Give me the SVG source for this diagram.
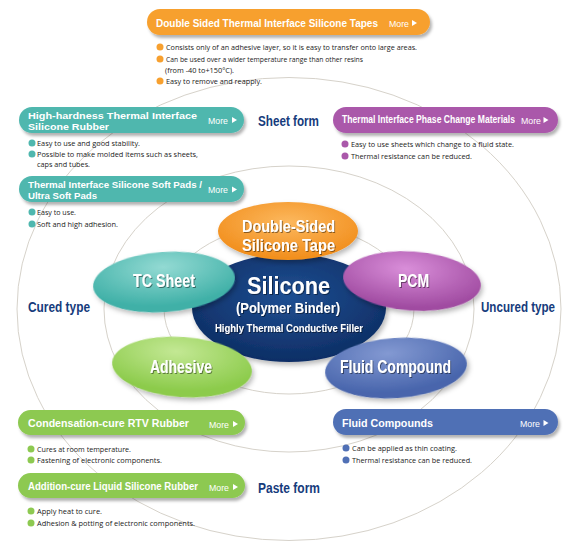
<svg xmlns="http://www.w3.org/2000/svg" width="577" height="553" viewBox="0 0 577 553">
<defs>
<style>
.pt{font-family:"Liberation Sans",Arial,sans-serif;font-weight:bold;font-size:11.5px;fill:#fff}
.pt2{font-family:"Liberation Sans",Arial,sans-serif;font-weight:bold;font-size:9.8px;fill:#fff}
.more{font-family:"Liberation Sans",Arial,sans-serif;font-size:9.5px;fill:#fff}
.bt{font-family:"Open Sans","Liberation Sans",sans-serif;font-size:7.6px;fill:#1a1a1a}
.sec{font-family:"Liberation Sans",Arial,sans-serif;font-weight:bold;font-size:14px;fill:#163b7c}
.bl{font-family:"Liberation Sans",Arial,sans-serif;font-weight:bold;fill:#fff;text-anchor:middle}
.ring{fill:none;stroke:#d6d2ca;stroke-width:1}
</style>
<filter id="ps" x="-10%" y="-30%" width="125%" height="180%"><feDropShadow dx="2" dy="3" stdDeviation="1.8" flood-color="#000" flood-opacity="0.3"/></filter>
<filter id="bs" x="-20%" y="-30%" width="140%" height="170%"><feDropShadow dx="2" dy="3" stdDeviation="2.5" flood-color="#000" flood-opacity="0.28"/></filter>
<filter id="ts" x="-10%" y="-30%" width="120%" height="170%"><feDropShadow dx="1" dy="1" stdDeviation="0.7" flood-color="#000" flood-opacity="0.45"/></filter>
<radialGradient id="gO" cx="50%" cy="35%" r="60%"><stop offset="0" stop-color="#fcb85e"/><stop offset="1" stop-color="#f2901f"/></radialGradient>
<radialGradient id="gT" cx="50%" cy="25%" r="65%"><stop offset="0" stop-color="#93dad3"/><stop offset="1" stop-color="#3fb0a7"/></radialGradient>
<radialGradient id="gP" cx="45%" cy="30%" r="65%"><stop offset="0" stop-color="#d98ed9"/><stop offset="1" stop-color="#a04ba1"/></radialGradient>
<radialGradient id="gG" cx="45%" cy="25%" r="65%"><stop offset="0" stop-color="#c3e894"/><stop offset="1" stop-color="#8ccb4b"/></radialGradient>
<radialGradient id="gB" cx="45%" cy="25%" r="65%"><stop offset="0" stop-color="#8399d2"/><stop offset="1" stop-color="#4865ac"/></radialGradient>
<radialGradient id="gN" cx="50%" cy="40%" r="60%"><stop offset="0" stop-color="#1f4f92"/><stop offset="1" stop-color="#0e2e65"/></radialGradient>
<polygon id="ar" points="0,-3 5,0 0,3" fill="#fff"/>
</defs>
<rect width="577" height="553" fill="#fff"/>

<g id="connectors">
<ellipse class="ring" cx="289" cy="309" rx="272" ry="231.5"/>
<ellipse class="ring" cx="289" cy="309" rx="185" ry="143"/>
<ellipse class="ring" cx="289" cy="309" rx="125" ry="85"/>
</g>

<g id="labels">
<text class="sec" x="258" y="126" textLength="61" lengthAdjust="spacingAndGlyphs">Sheet form</text>
<text class="sec" x="258" y="493" textLength="62" lengthAdjust="spacingAndGlyphs">Paste form</text>
<text class="sec" x="28" y="312" textLength="62" lengthAdjust="spacingAndGlyphs">Cured type</text>
<text class="sec" x="481" y="312" textLength="74" lengthAdjust="spacingAndGlyphs">Uncured type</text>
</g>

<g id="tape-top">
<rect x="147" y="9" width="283" height="26" rx="13" fill="#f7a02f" filter="url(#ps)"/>
<text class="pt" transform="translate(156 27) scale(0.867 1)" textLength="256" lengthAdjust="spacingAndGlyphs">Double Sided Thermal Interface Silicone Tapes</text>
<text class="more" x="389" y="26.5" textLength="20" lengthAdjust="spacingAndGlyphs">More</text><use href="#ar" x="412" y="23"/>
<circle cx="160" cy="47" r="3.5" fill="#f7a02f"/>
<text class="bt" x="166" y="49.6" textLength="251" lengthAdjust="spacingAndGlyphs">Consists only of an adhesive layer, so it is easy to transfer onto large areas.</text>
<circle cx="160" cy="59" r="3.5" fill="#f7a02f"/>
<text class="bt" x="166" y="61.6" textLength="197" lengthAdjust="spacingAndGlyphs">Can be used over a wider temperature range than other resins</text>
<text class="bt" x="165" y="72.6" textLength="69" lengthAdjust="spacingAndGlyphs">(from -40 to+150°C).</text>
<circle cx="160" cy="81" r="3.5" fill="#f7a02f"/>
<text class="bt" x="166" y="83.6" textLength="96" lengthAdjust="spacingAndGlyphs">Easy to remove and reapply.</text>
</g>

<g id="hh-rubber">
<rect x="19" y="107" width="225" height="26" rx="13" fill="#4fb7ae" filter="url(#ps)"/>
<text class="pt2" x="28" y="118.5" textLength="169" lengthAdjust="spacingAndGlyphs">High-hardness Thermal Interface</text>
<text class="pt2" x="28" y="129.5" textLength="81" lengthAdjust="spacingAndGlyphs">Silicone Rubber</text>
<text class="more" x="208" y="123.5" textLength="20" lengthAdjust="spacingAndGlyphs">More</text><use href="#ar" x="232" y="120"/>
<circle cx="32" cy="143" r="3.5" fill="#4fb7ae"/>
<text class="bt" x="37" y="145.6" textLength="103" lengthAdjust="spacingAndGlyphs">Easy to use and good stability.</text>
<circle cx="32" cy="154" r="3.5" fill="#4fb7ae"/>
<text class="bt" x="37" y="156.6" textLength="161" lengthAdjust="spacingAndGlyphs">Possible to make molded items  such as sheets,</text>
<text class="bt" x="37" y="166.6" textLength="53" lengthAdjust="spacingAndGlyphs">caps and tubes.</text>
</g>

<g id="soft-pads">
<rect x="19" y="176" width="225" height="26" rx="13" fill="#4fb7ae" filter="url(#ps)"/>
<text class="pt2" x="28" y="187.5" textLength="174" lengthAdjust="spacingAndGlyphs">Thermal Interface Silicone Soft Pads /</text>
<text class="pt2" x="28" y="198.5" textLength="69" lengthAdjust="spacingAndGlyphs">Ultra Soft Pads</text>
<text class="more" x="208" y="193" textLength="20" lengthAdjust="spacingAndGlyphs">More</text><use href="#ar" x="232" y="189.5"/>
<circle cx="32" cy="212" r="3.5" fill="#4fb7ae"/>
<text class="bt" x="37" y="214.6" textLength="39" lengthAdjust="spacingAndGlyphs">Easy to use.</text>
<circle cx="32" cy="224" r="3.5" fill="#4fb7ae"/>
<text class="bt" x="37" y="226.6" textLength="81" lengthAdjust="spacingAndGlyphs">Soft and high adhesion.</text>
</g>

<g id="pcm-mat">
<rect x="333" y="107" width="225" height="26" rx="13" fill="#aa58aa" filter="url(#ps)"/>
<text class="pt" transform="translate(342 123.3) scale(0.748 1)" textLength="231.3" lengthAdjust="spacingAndGlyphs">Thermal Interface Phase Change Materials</text>
<text class="more" x="521" y="123.5" textLength="20" lengthAdjust="spacingAndGlyphs">More</text><use href="#ar" x="543.5" y="120"/>
<circle cx="345" cy="144" r="3.5" fill="#aa58aa"/>
<text class="bt" x="351" y="146.6" textLength="163" lengthAdjust="spacingAndGlyphs">Easy to use sheets  which change to a fluid state.</text>
<circle cx="345" cy="156" r="3.5" fill="#aa58aa"/>
<text class="bt" x="351" y="158.6" textLength="121" lengthAdjust="spacingAndGlyphs">Thermal resistance can be reduced.</text>
</g>

<g id="rtv">
<rect x="18" y="410" width="227" height="25" rx="12.5" fill="#8dc951" filter="url(#ps)"/>
<text class="pt" transform="translate(28 426.7) scale(0.923 1)" textLength="174.4" lengthAdjust="spacingAndGlyphs">Condensation-cure RTV Rubber</text>
<text class="more" x="209" y="427.5" textLength="20" lengthAdjust="spacingAndGlyphs">More</text><use href="#ar" x="233" y="424"/>
<circle cx="31" cy="449" r="3.5" fill="#8dc951"/>
<text class="bt" x="37" y="451.6" textLength="94" lengthAdjust="spacingAndGlyphs">Cures at room temperature.</text>
<circle cx="31" cy="460" r="3.5" fill="#8dc951"/>
<text class="bt" x="37" y="462.6" textLength="125" lengthAdjust="spacingAndGlyphs">Fastening of electronic components.</text>
</g>

<g id="lsr">
<rect x="18" y="473" width="227" height="25" rx="12.5" fill="#8dc951" filter="url(#ps)"/>
<text class="pt" transform="translate(28 490) scale(0.837 1)" textLength="203.1" lengthAdjust="spacingAndGlyphs">Addition-cure Liquid Silicone Rubber</text>
<text class="more" x="209" y="490.5" textLength="20" lengthAdjust="spacingAndGlyphs">More</text><use href="#ar" x="233" y="487"/>
<circle cx="31" cy="511" r="3.5" fill="#8dc951"/>
<text class="bt" x="37" y="513.6" textLength="65" lengthAdjust="spacingAndGlyphs">Apply heat to cure.</text>
<circle cx="31" cy="523" r="3.5" fill="#8dc951"/>
<text class="bt" x="37" y="525.6" textLength="158" lengthAdjust="spacingAndGlyphs">Adhesion &amp; potting of electronic components.</text>
</g>

<g id="fluid-compounds">
<rect x="333" y="409" width="225" height="26" rx="13" fill="#5070b5" filter="url(#ps)"/>
<text class="pt" transform="translate(342 426.7) scale(0.93 1)" textLength="97.8" lengthAdjust="spacingAndGlyphs">Fluid Compounds</text>
<text class="more" x="520" y="426.5" textLength="20" lengthAdjust="spacingAndGlyphs">More</text><use href="#ar" x="543.5" y="423"/>
<circle cx="346" cy="448" r="3.5" fill="#5070b5"/>
<text class="bt" x="352" y="450.6" textLength="105" lengthAdjust="spacingAndGlyphs">Can be applied as thin coating.</text>
<circle cx="346" cy="460" r="3.5" fill="#5070b5"/>
<text class="bt" x="352" y="462.6" textLength="120" lengthAdjust="spacingAndGlyphs">Thermal resistance can be reduced.</text>
</g>

<g id="silicone">
<ellipse cx="289" cy="308" rx="97" ry="54" fill="url(#gN)" filter="url(#bs)"/>
<g filter="url(#ts)">
<text class="bl" x="288.5" y="294" font-size="24" textLength="83" lengthAdjust="spacingAndGlyphs">Silicone</text>
<text class="bl" x="288" y="313" font-size="14.5" textLength="104" lengthAdjust="spacingAndGlyphs">(Polymer Binder)</text>
<text class="bl" x="289" y="331.5" font-size="10.5" textLength="148" lengthAdjust="spacingAndGlyphs">Highly Thermal Conductive Filler</text>
</g>
</g>

<g id="dst">
<ellipse cx="288" cy="231" rx="70" ry="29" fill="url(#gO)" filter="url(#bs)"/>
<g filter="url(#ts)">
<text class="bl" x="288.5" y="232" font-size="17" textLength="93" lengthAdjust="spacingAndGlyphs">Double-Sided</text>
<text class="bl" x="288.5" y="251" font-size="17" textLength="93" lengthAdjust="spacingAndGlyphs">Silicone Tape</text>
</g>
</g>

<g id="tc-sheet">
<ellipse cx="164" cy="282" rx="71" ry="30" fill="url(#gT)" filter="url(#bs)" transform="rotate(-4 164 282)"/>
<text class="bl" x="164" y="287" font-size="18" textLength="62" lengthAdjust="spacingAndGlyphs" filter="url(#ts)">TC Sheet</text>
</g>

<g id="pcm">
<ellipse cx="412" cy="281" rx="69" ry="29.5" fill="url(#gP)" filter="url(#bs)" transform="rotate(4 412 281)"/>
<text class="bl" x="413.5" y="287" font-size="18" textLength="31" lengthAdjust="spacingAndGlyphs" filter="url(#ts)">PCM</text>
</g>

<g id="adhesive">
<ellipse cx="182" cy="367" rx="70" ry="30" fill="url(#gG)" filter="url(#bs)" transform="rotate(4 182 367)"/>
<text class="bl" x="181" y="373" font-size="18" textLength="62" lengthAdjust="spacingAndGlyphs" filter="url(#ts)">Adhesive</text>
</g>

<g id="fluid">
<ellipse cx="396" cy="368" rx="71" ry="30" fill="url(#gB)" filter="url(#bs)" transform="rotate(-4 396 368)"/>
<text class="bl" x="395.5" y="373" font-size="17.5" textLength="111" lengthAdjust="spacingAndGlyphs" filter="url(#ts)">Fluid Compound</text>
</g>
</svg>
